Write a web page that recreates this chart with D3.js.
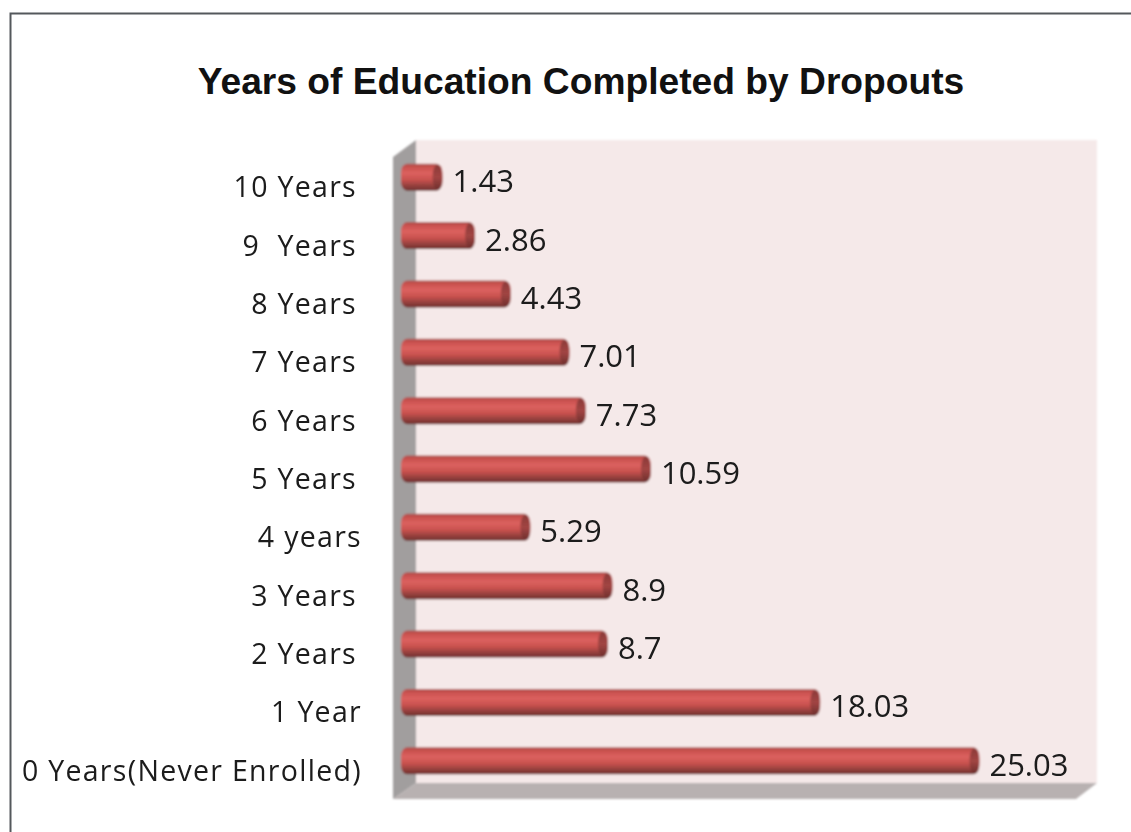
<!DOCTYPE html>
<html><head><meta charset="utf-8">
<script src="https://cdn.jsdelivr.net/npm/d3@7"></script>
<style>html,body{margin:0;padding:0;background:#fff}svg{display:block}</style></head>
<body><svg id="c" width="1131" height="832"></svg>
<script>
const title = "Years of Education Completed by Dropouts";
const categories = ["10 Years","9  Years","8 Years","7 Years","6 Years","5 Years","4 years","3 Years","2 Years","1 Year","0 Years(Never Enrolled)"];
const values = [1.43,2.86,4.43,7.01,7.73,10.59,5.29,8.9,8.7,18.03,25.03];
const valueLabels = ["1.43","2.86","4.43","7.01","7.73","10.59","5.29","8.9","8.7","18.03","25.03"];

const svg = d3.select("#c");
const defs = svg.append("defs");
const soft = (id,s)=>defs.append("filter").attr("id",id).attr("x","-5%").attr("y","-5%").attr("width","110%").attr("height","110%")
  .append("feGaussianBlur").attr("stdDeviation",s);
soft("soft",0.9); soft("softT",0.55);
const grad = defs.append("linearGradient").attr("id","bar").attr("x1",0).attr("y1",0).attr("x2",0).attr("y2",1);
[[0,"#a9504c"],[0.12,"#c9504e"],[0.35,"#dc625f"],[0.6,"#c8514e"],[0.82,"#94403d"],[1,"#6e2f2d"]]
  .forEach(([o,c])=>grad.append("stop").attr("offset",o).attr("stop-color",c));
const gradEnd = defs.append("linearGradient").attr("id","cap").attr("x1",0).attr("y1",0).attr("x2",0).attr("y2",1);
[[0,"#8a3a38"],[0.5,"#a24543"],[1,"#6e2f2d"]].forEach(([o,c])=>gradEnd.append("stop").attr("offset",o).attr("stop-color",c));

const x = d3.scaleLinear().domain([0,30]).range([409.5,1092]);
const y = d3.scaleBand().domain(categories).range([148,790]).paddingInner(0.55).paddingOuter(0.275);
const barH = 27, barLeft = 401;

// frame
svg.append("path").attr("d","M10.5,832V13.5H1131").attr("fill","none").attr("stroke","#54585c").attr("stroke-width",2);

const plot = svg.append("g").attr("filter","url(#soft)");
plot.append("rect").attr("x",416).attr("y",140).attr("width",681).attr("height",643).attr("fill","#f5e9e9");
plot.append("polygon").attr("points","393,157 416,140 416,783 393,799").attr("fill","#a19e9e");
plot.append("polygon").attr("points","393,799 416,783 1097,783 1076,799").attr("fill","#b8b1b1");

const bars = plot.selectAll("g.b").data(categories).join("g").attr("class","b");
const vOf = (d,i)=>values[i];
bars.append("rect").attr("x",barLeft).attr("y",d=>y(d)+y.bandwidth()/2-barH/2)
  .attr("width",(d,i)=>x(vOf(d,i))-barLeft+0.5).attr("height",barH).attr("rx",6).attr("ry",9).attr("fill","url(#bar)");
bars.append("ellipse").attr("cx",(d,i)=>x(vOf(d,i))-4.5).attr("cy",d=>y(d)+y.bandwidth()/2)
  .attr("rx",5).attr("ry",barH/2-1).attr("fill","url(#cap)");

const labelDx = {"4 years":5,"1 Year":5,"0 Years(Never Enrolled)":5};
const txt = svg.append("g").attr("filter","url(#softT)").attr("font-family","'Open Sans','Noto Sans',sans-serif").attr("fill","#1a1a1a");
txt.selectAll("text.cat").data(categories).join("text").attr("class","cat")
  .attr("x",d=>357+(labelDx[d]||0)).attr("y",d=>y(d)+y.bandwidth()/2+20)
  .attr("text-anchor","end").attr("font-size",28.5).attr("letter-spacing",1.3).style("white-space","pre").text(d=>d);
txt.selectAll("text.val").data(categories).join("text").attr("class","val")
  .attr("x",(d,i)=>x(vOf(d,i))+10.5).attr("y",d=>y(d)+y.bandwidth()/2+15)
  .attr("font-size",31).text((d,i)=>valueLabels[i]);

svg.append("text").attr("x",581).attr("y",94).attr("text-anchor","middle")
  .attr("font-family","'Liberation Sans',Arial,sans-serif").attr("font-weight",700).attr("font-size",37.2).attr("fill","#111").text(title);
</script></body></html>
